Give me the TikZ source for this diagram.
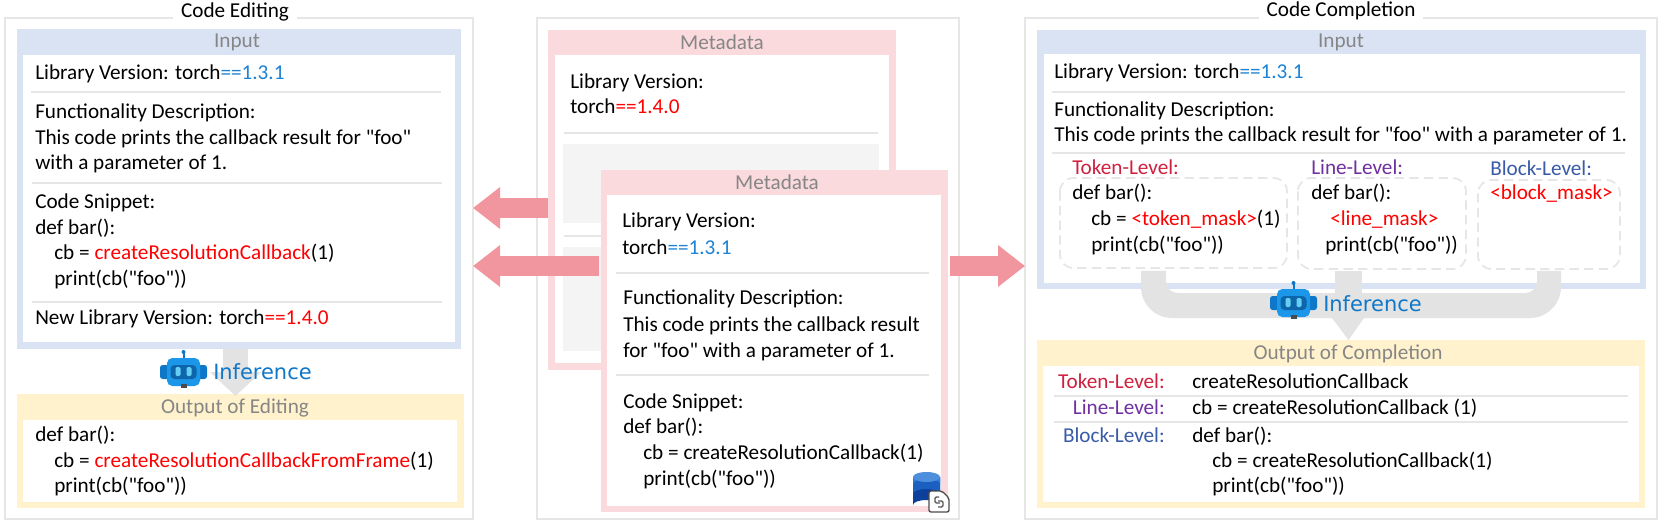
\documentclass[tikz,border=0pt]{standalone}
\usepackage{fontspec}
\newfontfamily\calib{Carlito}
\newfontfamily\comic{DejaVu Sans}
\usetikzlibrary{arrows.meta}
\definecolor{fr}{HTML}{E7E6E6}
\definecolor{blu}{HTML}{DAE3F3}
\definecolor{pnk}{HTML}{FADADD}
\definecolor{yel}{HTML}{FFF2CC}
\definecolor{arr}{HTML}{F1959F}
\definecolor{gra}{HTML}{E3E3E3}
\definecolor{ver}{HTML}{1C83D6}
\definecolor{tl}{HTML}{D0203F}
\definecolor{ll}{HTML}{7030A0}
\definecolor{bl}{HTML}{3A5BA8}
\definecolor{tit}{HTML}{868686}
\definecolor{pan}{HTML}{F4F4F5}
\definecolor{inf}{HTML}{0F77C8}
\definecolor{bot}{HTML}{1C96E8}
\definecolor{dba}{HTML}{2E7BD6}
\definecolor{dbb}{HTML}{1B5FC0}
\definecolor{dbc}{HTML}{0D3F9C}
\newcommand{\R}[1]{\textcolor{red}{#1}}
\newcommand{\V}[1]{\textcolor{ver}{#1}}
\newcommand{\robot}[2]{%
 \begin{scope}[shift={(#1,#2)}]
  \fill[inf] (-1,-20) rectangle (1,-12);
  \fill[inf] (0,-20) circle (1.5pt);
  \fill[inf,rounded corners=2pt] (-23.5,-7) rectangle (-14,7);
  \fill[inf,rounded corners=2pt] (14,-7) rectangle (23.5,7);
  \fill[bot,rounded corners=4pt] (-16.5,-14) rectangle (16.5,14);
  \fill[inf!85!black,rounded corners=3pt] (-13,-7) rectangle (13,7);
  \fill[cyan!60!white,rounded corners=1pt] (-8,-5) rectangle (-3,4);
  \fill[cyan!60!white,rounded corners=1pt] (3,-5) rectangle (8,4);
  \fill[black!70] (-3,12) rectangle (3,16);
 \end{scope}}
\tikzset{
 px/.style={x=0.75pt,y=-0.75pt},
 frm/.style={draw=fr,line width=1.4pt,fill=white},
 bar/.style={draw=fr,line width=1.3pt},
 txt/.style={anchor=base west,inner sep=0pt,font=\calib\fontsize{15.9}{15.9}\selectfont},
 tr/.style={anchor=base east,inner sep=0pt,font=\calib\fontsize{15.9}{15.9}\selectfont},
 tc/.style={anchor=base,inner sep=0pt,font=\calib\fontsize{15.9}{15.9}\selectfont,text=tit},
 ttl/.style={anchor=base,inner xsep=6pt,inner ysep=2pt,font=\calib\fontsize{15.9}{15.9}\selectfont,fill=white},
 infer/.style={anchor=base west,inner sep=0pt,font=\comic\fontsize{15.7}{15.7}\selectfont,text=inf},
 dashbox/.style={draw=fr,line width=1.3pt,dash pattern=on 7pt off 4pt,rounded corners=10pt},
 bigarrow/.style={draw=arr,line width=15pt,-{Triangle[length=20.25pt,width=30pt,color=arr]}},
 flowarrow/.style={draw=gra,line width=18.75pt,-{Triangle[length=18pt,width=37.5pt,color=gra]}},
 flow/.style={fill=gra,draw=none}
}
\begin{document}
\begin{tikzpicture}[px]
\useasboundingbox (0,0) rectangle (1661,524);
\fill[white] (0,0) rectangle (1661,524);
% outer frames
\draw[frm] (5,18) rectangle (473,519);
\draw[frm] (537,18) rectangle (959,519);
\draw[frm] (1025,18) rectangle (1657,519);
\node[ttl] (t1) at (235,18) {Code Editing};
\node[ttl] (t2) at (1341,17) {Code Completion};

% ---- Left input
\fill[blu] (17,29) rectangle (461,349);
\fill[white] (23,55) rectangle (455,342);
\node[tc] (li) at (237,48) {Input};
\node[txt] (l1) at (35,80) {Library Version: torch\V{==1.3.1}};
\draw[bar] (31,92) -- (441,92);
\node[txt] (l2) at (35,119) {Functionality Description:};
\node[txt] (l3) at (35,145) {This code prints the callback result for "foo"};
\node[txt] (l4) at (35,170) {with a parameter of 1.};
\draw[bar] (32,183) -- (442,183);
\node[txt] (l5) at (35,209) {Code Snippet:};
\node[txt] (l6) at (35,235) {def bar():};
\node[txt] (l7) at (54,260) {cb = \R{createResolutionCallback}(1)};
\node[txt] (l8) at (54,286) {print(cb("foo"))};
\draw[bar] (32,302) -- (442,302);
\node[txt] (l9) at (35,325) {New Library Version: torch\R{==1.4.0}};

% ---- Left output
\coordinate (lfs) at (235.5,349);
\coordinate (lft) at (235.5,396);
\fill[yel] (17,394) rectangle (464,508);
\fill[white] (23,420) rectangle (457,502);
\draw[flowarrow] (lfs) -- (lft);
\robot{183.5}{372}
\node[infer] (li1) at (213,379) {Inference};
\node[tc] (lo) at (235,413) {Output of Editing};
\node[txt] (o1) at (35,441) {def bar():};
\node[txt] (o2) at (54,467) {cb = \R{createResolutionCallbackFromFrame}(1)};
\node[txt] (o3) at (54,492) {print(cb("foo"))};

% ---- Middle, back sheet
\fill[pnk] (548,30) rectangle (896,370);
\fill[white] (555,55) rectangle (889,363);
\node[tc] (m1) at (722,50) {Metadata};
\node[txt] (m2) at (570,89) {Library Version:};
\node[txt] (m3) at (570,114) {torch\R{==1.4.0}};
\draw[bar] (564,133) -- (878,133);
\fill[pan] (563,144) rectangle (879,223);
\draw[bar] (564,236) -- (878,236);
\fill[pan] (563,247) rectangle (879,351);

% ---- Middle, front sheet
\fill[pnk] (601,170) rectangle (948,512);
\fill[white] (607,195) rectangle (941,506);
\node[tc] (n1) at (777,190) {Metadata};
\node[txt] (n2) at (622,228) {Library Version:};
\node[txt] (n3) at (622,254) {torch\V{==1.3.1}};
\draw[bar] (616,273) -- (929,273);
\node[txt] (n4) at (623,305) {Functionality Description:};
\node[txt] (n5) at (623,331) {This code prints the callback result};
\node[txt] (n6) at (623,357) {for "foo" with a parameter of 1.};
\draw[bar] (616,375) -- (929,375);
\node[txt] (n7) at (623,408) {Code Snippet:};
\node[txt] (n8) at (623,433) {def bar():};
\node[txt] (n9) at (643,459) {cb = createResolutionCallback(1)};
\node[txt] (n10) at (643,485) {print(cb("foo"))};

% database icon
\fill[dbc] (913,477) -- (913,505) arc[start angle=180,end angle=360,x radius=13.5,y radius=5] -- (940,477) -- cycle;
\fill[dbb] (913,477) -- (913,494) arc[start angle=180,end angle=360,x radius=13.5,y radius=5] -- (940,477) -- cycle;
\fill[dba] (913,477) -- (913,484) arc[start angle=180,end angle=360,x radius=13.5,y radius=5] -- (940,477) -- cycle;
\fill[dba!85!white] (926.5,477) ellipse[x radius=13.5,y radius=5];
\draw[black!70,fill=white,line width=1pt,rounded corners=1.5pt] (929,491) -- (942,491) -- (949,498) -- (949,512) -- (929,512) -- cycle;
\draw[black!65,line width=1pt,rounded corners=1pt] (939,497) -- (935,497) -- (935,503) -- (940,503);
\draw[black!65,line width=1pt,rounded corners=1pt] (938,507) -- (943,507) -- (943,501) -- (938,501);

% big arrows
\coordinate (a1s) at (548,208); \coordinate (a1t) at (473,208);
\coordinate (a2s) at (599,266); \coordinate (a2t) at (473,266);
\coordinate (a3s) at (950,266); \coordinate (a3t) at (1025,266);
\draw[bigarrow] (a1s) -- (a1t);
\draw[bigarrow] (a2s) -- (a2t);
\draw[bigarrow] (a3s) -- (a3t);

% ---- Right input
\fill[blu] (1037,30) rectangle (1646,289);
\fill[white] (1044,54) rectangle (1640,283);
\node[tc] (ri) at (1341,48) {Input};
\node[txt] (r1) at (1054,79) {Library Version: torch\V{==1.3.1}};
\draw[bar] (1052,92) -- (1625,92);
\node[txt] (r2) at (1054,117) {Functionality Description:};
\node[txt] (r3) at (1054,142) {This code prints the callback result for "foo" with a parameter of 1.};
\draw[bar] (1052,153) -- (1625,153);
\node[txt,text=tl] (r4) at (1072,175) {Token-Level:};
\node[txt,text=ll] (r5) at (1311,175) {Line-Level:};
\node[txt,text=bl] (r6) at (1490,176) {Block-Level:};
\draw[dashbox] (1060,178) rectangle (1287,268);
\draw[dashbox] (1298,178) rectangle (1466,269);
\draw[dashbox] (1478,180) rectangle (1620,269);
\node[txt] (c1) at (1072,200) {def bar():};
\node[txt] (c2) at (1091,226) {cb = \R{<token\_mask>}(1)};
\node[txt] (c3) at (1091,252) {print(cb("foo"))};
\node[txt] (c4) at (1311,200) {def bar():};
\node[txt] (c5) at (1330,226) {\R{<line\_mask>}};
\node[txt] (c6) at (1325,252) {print(cb("foo"))};
\node[txt] (c7) at (1490,200) {\R{<block\_mask>}};

% merging flow
\fill[flow] (1141,271) -- (1141,287) .. controls (1141,304) and (1155,318) .. (1172,318) -- (1530,318) .. controls (1547,318) and (1561,304) .. (1561,287) -- (1561,271) -- (1537,271) -- (1537,281) .. controls (1537,288) and (1532,293) .. (1525,293) -- (1178,293) .. controls (1171,293) and (1166,288) .. (1166,281) -- (1166,271) -- cycle;
\fill[flow] (1335,271) rectangle (1362,300);
\fill[flow] (1332,318) -- (1348.5,340) -- (1364,318) -- cycle;
\robot{1293.5}{303}
\node[infer] (ri1) at (1323,311) {Inference};

% ---- Right output
\fill[yel] (1037,340) rectangle (1645,508);
\fill[white] (1043,366) rectangle (1639,502);
\node[tc] (ro) at (1348,359) {Output of Completion};
\node[tr,text=tl] (e1) at (1165,388) {Token-Level:};
\node[txt] (e2) at (1192,388) {createResolutionCallback};
\draw[bar] (1054,396) -- (1628,396);
\node[tr,text=ll] (e3) at (1165,414) {Line-Level:};
\node[txt] (e4) at (1192,414) {cb = createResolutionCallback (1)};
\draw[bar] (1054,422) -- (1628,422);
\node[tr,text=bl] (e5) at (1165,442) {Block-Level:};
\node[txt] (e6) at (1192,442) {def bar():};
\node[txt] (e7) at (1212,467) {cb = createResolutionCallback(1)};
\node[txt] (e8) at (1212,492) {print(cb("foo"))};
\end{tikzpicture}
\end{document}
